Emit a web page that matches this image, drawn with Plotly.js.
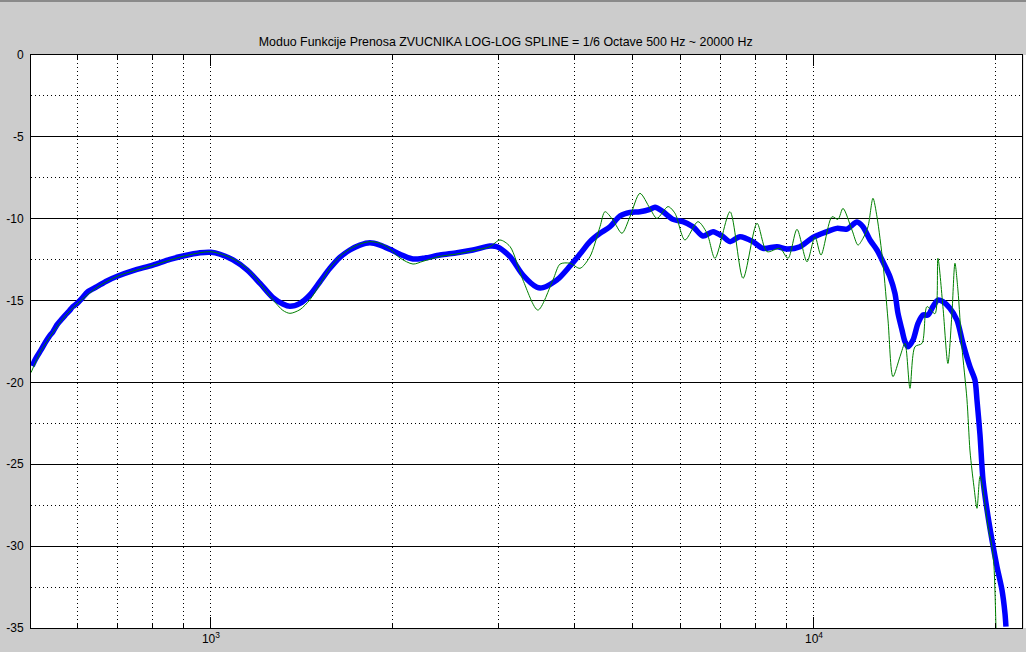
<!DOCTYPE html>
<html>
<head>
<meta charset="utf-8">
<script src="https://cdn.plot.ly/plotly-3.0.1.min.js"></script>
<style>
html,body{margin:0;padding:0;background:#cccccc;}
#chart{width:1026px;height:652px;}
</style>
</head>
<body>
<div id="chart"></div>
<script>
// Smoothed (1/6 octave) response - blue
const blueFreq = [505,513,523,531,539,547,555,564,573,582,590,600,611,625,647,672,701,743,801,855,899,959,1000,1035,1088,1148,1206,1267,1316,1352,1405,1459,1516,1575,1636,1700,1766,1835,1907,1981,2058,2163,2247,2398,2559,2720,2902,2981,3133,3291,3472,3553,3749,3939,4092,4251,4417,4588,4767,4953,5145,5346,5449,5618,5837,6064,6300,6546,6801,7066,7257,7540,7922,8230,8683,9022,9480,9961,10510,10917,11342,11785,12058,12385,12720,13014,13366,13624,13782,13994,14155,14319,14596,14878,15165,15457,15749,16052,16362,16804,17260,17662,18139,18490,18634,18850,19068,19362,19733,20114,20502,20736,20816];
const blueDb = [-19.0,-18.5,-18.0,-17.57,-17.2,-16.9,-16.5,-16.19,-15.9,-15.64,-15.37,-15.17,-14.86,-14.46,-14.15,-13.8,-13.5,-13.17,-12.83,-12.48,-12.28,-12.08,-12.05,-12.17,-12.52,-13.13,-13.95,-14.82,-15.21,-15.35,-15.17,-14.66,-13.85,-13.03,-12.36,-11.91,-11.61,-11.47,-11.61,-11.87,-12.17,-12.46,-12.42,-12.22,-12.08,-11.91,-11.67,-11.71,-12.32,-13.44,-14.19,-14.21,-13.74,-12.89,-12.16,-11.40,-10.89,-10.49,-9.83,-9.61,-9.57,-9.43,-9.30,-9.57,-10.04,-10.18,-10.49,-11.06,-10.79,-11.10,-11.40,-11.10,-11.40,-11.81,-11.71,-11.85,-11.71,-11.14,-10.79,-10.59,-10.63,-10.2,-10.49,-11.30,-11.91,-12.63,-13.54,-14.56,-15.78,-16.80,-17.51,-17.82,-17.41,-16.39,-15.88,-15.88,-15.37,-14.97,-15.07,-15.47,-16.19,-17.61,-19.04,-19.85,-21.07,-23.2,-25.96,-27.79,-29.63,-31.26,-32.68,-34.1,-34.92];

// Raw response - green
const greenFreq = [503,523,547,573,600,647,701,801,899,1000,1088,1148,1206,1267,1316,1352,1405,1459,1516,1575,1636,1700,1766,1835,1907,1981,2058,2163,2247,2398,2559,2720,2902,3015,3133,3291,3485,3691,3793,3939,4092,4251,4417,4502,4642,4803,4953,5145,5346,5490,5727,5882,6110,6420,6647,6852,7257,7627,8045,8357,8782,9057,9372,9737,10039,10271,10712,10960,11171,11562,11830,12058,12291,12527,12720,13014,13267,13521,13887,14155,14428,14706,15107,15398,15873,16052,16362,16677,16936,17131,17327,17593,17932,18139,18281,18421,18634,18850,19068,19438,19733,19886,20036];
const greenDb = [-19.4,-18.05,-16.95,-15.95,-15.2,-14.2,-13.5,-12.85,-12.3,-12.02,-12.45,-13.05,-13.95,-14.95,-15.6,-15.78,-15.55,-14.95,-14.0,-13.0,-12.3,-11.85,-11.55,-11.4,-11.5,-11.85,-12.4,-12.77,-12.6,-12.3,-12.15,-11.95,-11.7,-11.3,-11.7,-13.74,-15.58,-13.74,-12.77,-12.72,-13.03,-12.32,-10.49,-9.57,-10.08,-10.89,-9.88,-8.45,-9.37,-9.98,-9.26,-9.67,-11.30,-10.18,-10.89,-12.42,-9.57,-13.64,-10.28,-12.01,-11.81,-12.42,-10.65,-12.63,-11.10,-12.22,-9.88,-10.04,-9.37,-10.69,-11.61,-11.20,-10.49,-8.75,-9.88,-12.72,-16.19,-19.65,-18.43,-17.61,-20.36,-17.82,-17.61,-15.37,-15.8,-12.42,-15.37,-18.84,-15.78,-12.72,-14.35,-17.82,-21.0,-24.13,-25.35,-26.37,-27.69,-25.74,-26.57,-28.81,-30.03,-31.26,-35];

const titleText = 'Moduo Funkcije Prenosa ZVUCNIKA LOG-LOG SPLINE = 1/6 Octave 500 Hz ~ 20000 Hz';
const xTickVals = [1000, 10000];
const xTickText = ['10<sup>3</sup>', '10<sup>4</sup>'];
const xMinorVals = [600,700,800,900,2000,3000,4000,5000,6000,7000,8000,9000,20000];
const yTickVals = [0,-5,-10,-15,-20,-25,-30,-35];
const yTickText = ['0','-5','-10','-15','-20','-25','-30','-35'];

const dotDash = '1px,3px';

const traces = [
  {
    x: blueFreq, y: blueDb, type: 'scatter', mode: 'lines',
    line: {color: '#0000ff', width: 5.5, shape: 'spline', smoothing: 0.8},
    hoverinfo: 'x+y', showlegend: false
  },
  {
    x: greenFreq, y: greenDb, type: 'scatter', mode: 'lines',
    line: {color: '#008000', width: 1, shape: 'spline', smoothing: 0.8},
    hoverinfo: 'x+y', showlegend: false
  }
];

const layout = {
  width: 1026, height: 652,
  paper_bgcolor: '#cccccc', plot_bgcolor: '#ffffff',
  margin: {l: 31, r: 4, t: 55, b: 24, pad: 0},
  font: {family: 'Liberation Sans, Arial, sans-serif', size: 12, color: '#000000'},
  title: {
    text: titleText, font: {family: 'Liberation Sans, Arial, sans-serif', size: 12.4, color: '#000'},
    x: 0.479, xref: 'paper', xanchor: 'center', y: 1 - 42/652, yref: 'container', yanchor: 'middle'
  },
  xaxis: {
    type: 'log', range: [Math.log10(503), Math.log10(22130)],
    tickmode: 'array', tickvals: xTickVals, ticktext: xTickText,
    ticks: 'inside', ticklen: 11, tickcolor: '#000', tickwidth: 1,
    showgrid: true, gridcolor: '#000', gridwidth: 1, griddash: dotDash,
    showline: true, linecolor: '#000', linewidth: 1, mirror: 'ticks',
    zeroline: false, fixedrange: true,
    tickfont: {size: 12, color: '#000'},
    minor: {tickmode: 'array', tickvals: xMinorVals, ticks: 'inside', ticklen: 5, tickcolor: '#000',
            showgrid: true, gridcolor: '#000', gridwidth: 1, griddash: dotDash}
  },
  yaxis: {
    range: [-35, 0], tickmode: 'array', tickvals: yTickVals, ticktext: yTickText,
    ticks: '', showgrid: true, gridcolor: '#000', gridwidth: 1,
    showline: true, linecolor: '#000', linewidth: 1, mirror: true,
    zeroline: false, fixedrange: true, ticklabelstandoff: 4,
    tickfont: {size: 12, color: '#000'},
    minor: {dtick: 2.5, tick0: 0, ticks: '', showgrid: true, gridcolor: '#000', gridwidth: 1, griddash: dotDash}
  },
  shapes: [
    {type: 'line', xref: 'paper', yref: 'paper', x0: -0.04, x1: 1.01, y0: 1 + 54/573, y1: 1 + 54/573,
     line: {color: '#8a8a8a', width: 2}},
    {type: 'rect', xref: 'paper', yref: 'paper', x0: 1.0015, x1: 1.0045, y0: 0, y1: 1,
     fillcolor: '#ffffff', line: {width: 0}}
  ]
};

Plotly.newPlot('chart', traces, layout, {displayModeBar: false, staticPlot: true});
</script>
</body>
</html>
